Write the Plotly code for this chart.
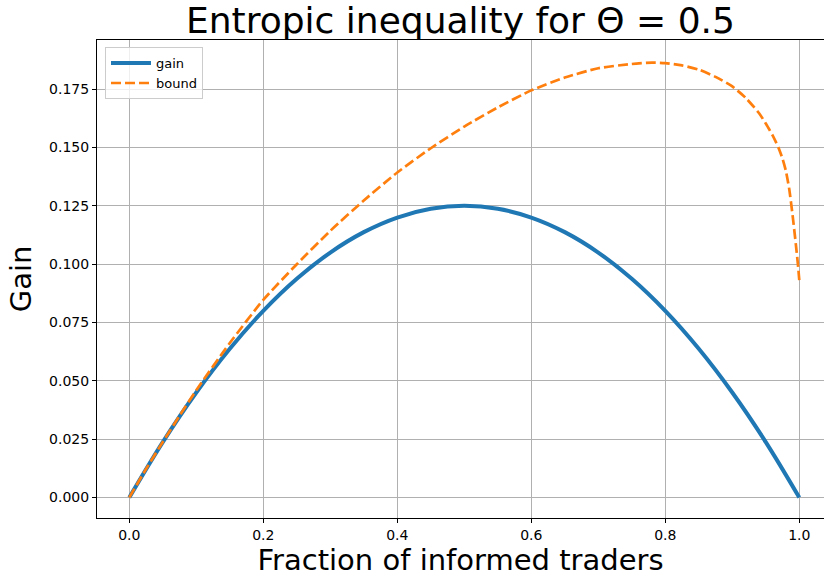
import plotly.graph_objects as go

# Fraction of informed traders (x samples)
x_gain = [0.0, 0.05, 0.1, 0.15, 0.2, 0.25, 0.3, 0.35, 0.4, 0.45, 0.5,
          0.55, 0.6, 0.65, 0.7, 0.75, 0.8, 0.85, 0.9, 0.95, 1.0]
gain = [0.0, 0.02375, 0.045, 0.06375, 0.08, 0.09375, 0.105, 0.11375, 0.12, 0.12375, 0.125,
        0.12375, 0.12, 0.11375, 0.105, 0.09375, 0.08, 0.06375, 0.045, 0.02375, 0.0]

x_bound = [0.0, 0.025, 0.05, 0.075, 0.1, 0.15, 0.2, 0.25, 0.3, 0.35, 0.4, 0.45, 0.5, 0.55, 0.6,
           0.65, 0.7, 0.75, 0.78, 0.8, 0.825, 0.85, 0.875, 0.9, 0.92, 0.94, 0.95, 0.96, 0.965,
           0.97, 0.975, 0.98, 0.985, 0.99, 0.995, 0.998, 1.0]
bound = [0.0, 0.0122, 0.0238, 0.0350, 0.0460, 0.0662, 0.0847, 0.1000, 0.1143, 0.1273, 0.1393,
         0.1497, 0.1590, 0.1672, 0.1745, 0.1800, 0.1840, 0.1858, 0.1864, 0.1862, 0.1852,
         0.1834, 0.1803, 0.1762, 0.1713, 0.1647, 0.1603, 0.1553, 0.1524, 0.1492, 0.1452,
         0.1400, 0.1322, 0.1210, 0.1082, 0.0998, 0.0932]

x_ticks = [0.0, 0.2, 0.4, 0.6, 0.8, 1.0]
x_ticklabels = ["0.0", "0.2", "0.4", "0.6", "0.8", "1.0"]
y_ticks = [0.0, 0.025, 0.05, 0.075, 0.1, 0.125, 0.15, 0.175]
y_ticklabels = ["0.000", "0.025", "0.050", "0.075", "0.100", "0.125", "0.150", "0.175"]

FONT = "DejaVu Sans"

fig = go.Figure()
fig.add_trace(go.Scatter(x=x_gain, y=gain, mode="lines", name="gain",
                         line=dict(color="#1f77b4", width=4, shape="spline")))
fig.add_trace(go.Scatter(x=x_bound, y=bound, mode="lines", name="bound",
                         line=dict(color="#ff7f0e", width=2.7, dash="10px,4px",
                                   shape="spline", smoothing=0.6)))

fig.update_layout(
    width=824, height=578,
    margin=dict(l=97, r=0, t=40, b=60),
    paper_bgcolor="white", plot_bgcolor="white",
    font=dict(family=FONT, size=14, color="black"),
    title=dict(text="Entropic inequality for Θ = 0.5", font=dict(family=FONT, size=36),
               x=0.5, xref="paper", xanchor="center", y=1 - 20 / 578, yref="container",
               yanchor="middle"),
    showlegend=True,
    legend=dict(x=0.011, y=0.985, xanchor="left", yanchor="top",
                bgcolor="rgba(255,255,255,0.8)", bordercolor="#cccccc", borderwidth=1,
                font=dict(size=13), tracegroupgap=0, itemwidth=40),
)
fig.update_xaxes(range=[-0.0482, 1.0369], tickvals=x_ticks, ticktext=x_ticklabels,
                 showgrid=True, gridcolor="#b0b0b0", gridwidth=1,
                 showline=True, linecolor="black", linewidth=1, mirror=True,
                 ticks="outside", ticklen=4, tickcolor="black",
                 zeroline=False,
                 title=dict(text="Fraction of informed traders", font=dict(size=29), standoff=4))
fig.update_yaxes(range=[-0.0088, 0.1961], tickvals=y_ticks, ticktext=y_ticklabels,
                 showgrid=True, gridcolor="#b0b0b0", gridwidth=1,
                 showline=True, linecolor="black", linewidth=1, mirror=False,
                 ticks="outside", ticklen=4, tickcolor="black",
                 zeroline=False,
                 title=dict(text="Gain", font=dict(size=29), standoff=8))

fig.write_html("out.html", config={"displayModeBar": False},
               post_script="document.body.style.margin='0px';")
